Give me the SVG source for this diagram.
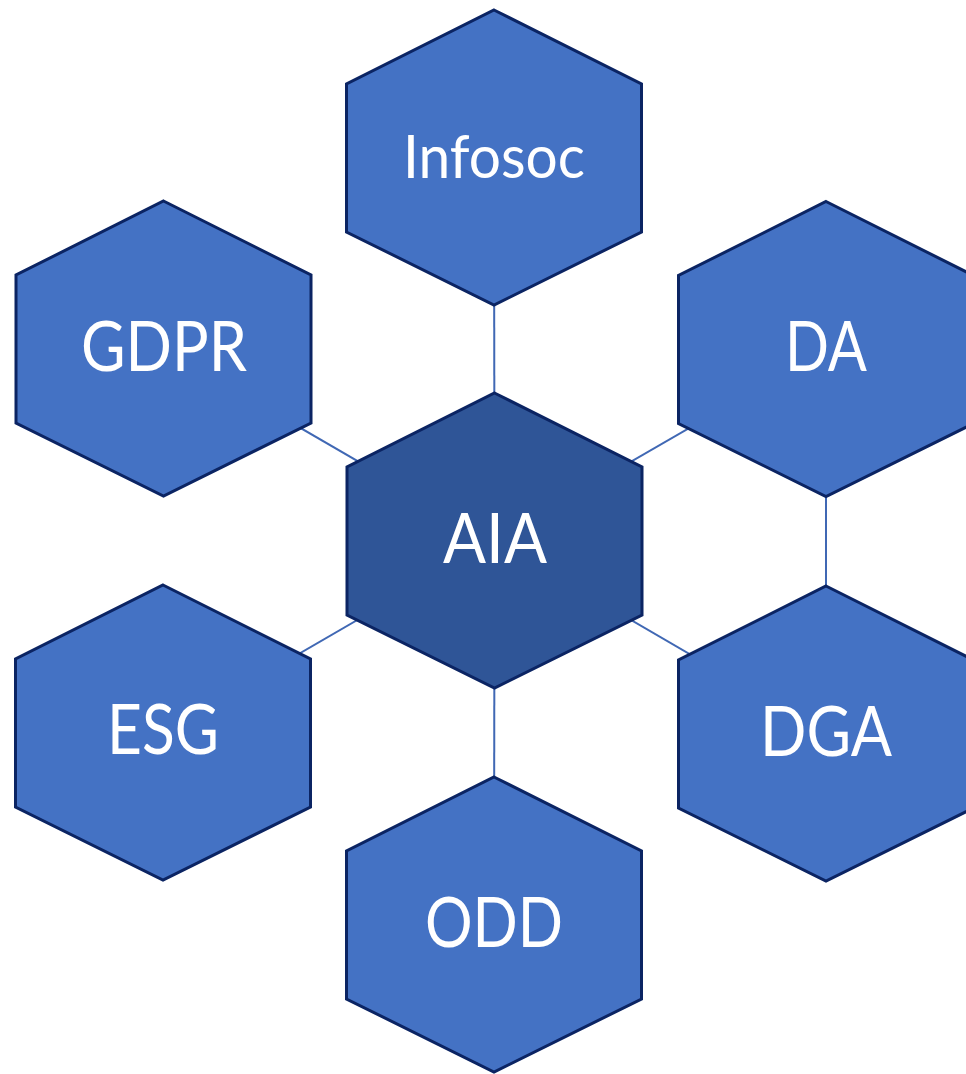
<svg xmlns="http://www.w3.org/2000/svg" width="966" height="1074" viewBox="0 0 966 1074">
<defs>
<style>
.hex{fill:#4472C4;stroke:#0B2463;stroke-width:3;stroke-linejoin:miter}
.hex.center{fill:#2F5597}
.lbl{fill:#fff;font-family:Lato,"Open Sans","Liberation Sans",sans-serif;text-anchor:middle}
.conn line{stroke:#4068B4;stroke-width:2}
</style>
<path id="hx" d="M0,-147.5 L147.5,-73.5 L147.5,74.5 L0,147.5 L-147.5,74.5 L-147.5,-73.5 Z"/>
</defs>
<rect width="966" height="1074" fill="#fff"/>
<g id="connectors" class="conn">
<line x1="494" y1="157.5" x2="494.5" y2="540.5"/>
<line x1="163.5" y1="348.5" x2="494.5" y2="540.5"/>
<line x1="826" y1="349" x2="494.5" y2="540.5"/>
<line x1="826" y1="349" x2="826" y2="733.5"/>
<line x1="163" y1="732.5" x2="494.5" y2="540.5"/>
<line x1="826" y1="733.5" x2="494.5" y2="540.5"/>
<line x1="494.5" y1="540.5" x2="494" y2="924.5"/>
</g>
<g id="node-infosoc"><use href="#hx" class="hex" x="494" y="157.5"/><text class="lbl" x="494" y="178" font-size="60" textLength="182" lengthAdjust="spacingAndGlyphs">Infosoc</text></g>
<g id="node-gdpr"><use href="#hx" class="hex" x="163.5" y="348.5"/><text class="lbl" x="164" y="371" font-size="70" textLength="166" lengthAdjust="spacingAndGlyphs">GDPR</text></g>
<g id="node-da"><use href="#hx" class="hex" x="826" y="349"/><text class="lbl" x="826" y="371" font-size="70" textLength="82" lengthAdjust="spacingAndGlyphs">DA</text></g>
<g id="node-aia"><use href="#hx" class="hex center" x="494.5" y="540.5"/><text class="lbl" x="495" y="563" font-size="70" textLength="104" lengthAdjust="spacingAndGlyphs">AIA</text></g>
<g id="node-esg"><use href="#hx" class="hex" x="163" y="732.5"/><text class="lbl" x="163" y="754" font-size="70" textLength="112" lengthAdjust="spacingAndGlyphs">ESG</text></g>
<g id="node-dga"><use href="#hx" class="hex" x="826" y="733.5"/><text class="lbl" x="826" y="756" font-size="70" textLength="132" lengthAdjust="spacingAndGlyphs">DGA</text></g>
<g id="node-odd"><use href="#hx" class="hex" x="494" y="924.5"/><text class="lbl" x="494" y="947" font-size="70" textLength="138" lengthAdjust="spacingAndGlyphs">ODD</text></g>
</svg>
